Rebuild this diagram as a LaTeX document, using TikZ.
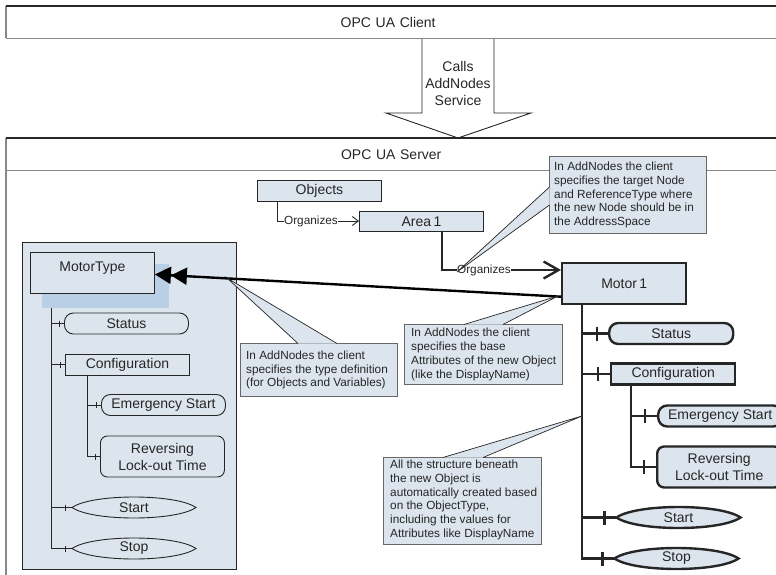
\documentclass[tikz,border=0pt]{standalone}
\usepackage{fontspec}
\setmainfont{Liberation Sans}
\usetikzlibrary{arrows.meta,calc}
\definecolor{boxfill}{HTML}{DCE4EE}
\definecolor{hilite}{HTML}{B8CFE6}
\definecolor{ink}{HTML}{262626}
\tikzset{
  big/.style={font=\fontsize{14}{17}\selectfont,text=ink,align=center},
  small/.style={font=\fontsize{11.8}{13.8}\selectfont,text=ink},
  box/.style={draw=ink,fill=boxfill,big,line width=0.9pt,minimum width=124pt,minimum height=21pt,inner sep=0pt},
  rbox/.style={box,rounded corners=9pt},
  rrbox/.style={box,rounded corners=7pt,minimum height=41pt},
  hv/.style={line width=2.4pt},
  lv/.style={line width=0.9pt},
  calloutbox/.style={draw=ink!70,fill=boxfill,line width=0.9pt,inner sep=0pt,anchor=north west},
  callouttext/.style={small,align=left,inner sep=0pt,anchor=west},
  ptr/.style={fill=boxfill,draw=none},
  ptredge/.style={draw=ink,line width=0.7pt},
  tree/.style={draw=ink,line join=miter},
  band/.style={minimum width=780pt,minimum height=32pt,inner sep=0pt,big,anchor=north west,text width=770pt,align=center},
  darkedge/.style={draw=ink,line width=1.1pt},
  greyedge/.style={draw=ink!55,line width=1.6pt},
}
% lens-shaped node: #1 style, #2 name, #3 x, #4 y, #5 text
\newcommand{\lensnode}[5]{%
  \path[draw=ink,fill=boxfill,#1] (#3-62,#4) .. controls (#3-42,#4-14) and (#3+42,#4-14) .. (#3+62,#4)
     .. controls (#3+42,#4+14) and (#3-42,#4+14) .. cycle;
  \node[big,minimum width=124pt,minimum height=21pt,inner sep=0pt] (#2) at (#3,#4) {#5};}
% branch: #1 line style, #2 root, #3 target node, #4 tick offset, #5 tick half height
\newcommand{\branch}[5]{%
  \draw[tree,#1] (#2) |- (#3.west);
  \draw[tree,#1] ($(#3.west)+(-#4,-#5)$) -- ($(#3.west)+(-#4,#5)$);}
% callout pointer: #1 tip, #2 base a, #3 base b
\newcommand{\pointer}[3]{%
  \fill[ptr] (#1) -- (#2) -- (#3) -- cycle;
  \draw[ptredge] (#2) -- (#1) -- (#3);}
\begin{document}
\begin{tikzpicture}[x=1pt,y=-1pt]
\useasboundingbox (0,0) rectangle (776,575);
\clip (0,0) rectangle (776,575);
% big arrow
\draw[ink,line width=0.9pt,fill=white] (422,38) -- (422,113) -- (386,113) -- (458,138) -- (531,113) -- (494,113) -- (494,38);
\node[big] (calls) at (458,83) {Calls\\AddNodes\\Service};
% client
\node[band] (client) at (6,6) {\hspace*{-16pt}OPC UA Client};
\draw[greyedge] (client.north west) -- (client.south west);
\draw[darkedge] (client.north west) -- (client.north east);
\draw[greyedge] (client.south west) -- (client.south east);
% server
\coordinate (srvbl) at (6,580);
\draw[greyedge] (6,138) -- (srvbl);
\node[band] (server) at (6,138) {\hspace*{-10pt}OPC UA Server};
\draw[ink,line width=1.6pt] (server.north west) -- (server.north east);
\draw[ink!55,line width=1pt] (server.south west) -- (server.south east);
% top nodes
\node[box,anchor=north west,minimum height=21pt] (objects) at (257,180) {Objects};
\node[box,anchor=north west,minimum height=20pt] (area) at (359,211) {Area\,1};
\node[small,inner sep=0pt] (org1) at (311,221) {Organizes};
\coordinate (objroot) at (277,201);
\draw[lv,draw=ink] (objroot) |- (org1.west);
\draw[lv,draw=ink,-{Straight Barb[length=6pt,width=9pt]}] (org1.east) -- (area.west |- org1.east);
% panel
\node[draw=ink,line width=0.9pt,fill=boxfill,minimum width=214pt,minimum height=327pt,inner sep=0pt,anchor=north west] (panel) at (22,242) {};
% MotorType tree
\coordinate (mtroot) at (51,293);
\node[rbox,anchor=west] (status) at (64,323.5) {Status};
\node[box,anchor=west] (config) at (65,364.5) {Configuration};
\node[rbox,anchor=west] (emerg) at (101,405) {Emergency Start};
\node[rrbox,anchor=west] (rev) at (100,456.5) {Reversing\\Lock-out Time};
\lensnode{line width=0.9pt}{start}{134}{507.5}{Start}
\lensnode{line width=0.9pt}{stop}{134}{548.5}{Stop}
\coordinate (cfgroot) at (87,375);
\branch{lv}{mtroot}{status}{5}{3}
\branch{lv}{mtroot}{config}{5}{3}
\branch{lv}{mtroot}{start}{6}{3}
\branch{lv}{mtroot}{stop}{6}{3}
\branch{lv}{cfgroot}{emerg}{5}{3}
\branch{lv}{cfgroot}{rev}{5}{3}
\fill[hilite] (42,264) rectangle (169,308);
\node[box,anchor=north west,minimum height=41pt] (mt) at (30,252) {\raisebox{12pt}{MotorType}};
% Motor1
\node[box,line width=2.4pt,anchor=north west,minimum height=41pt] (motor) at (561,262) {Motor\,1};
\coordinate (arearoot) at (442,231);
\node[small,inner sep=0pt] (org2) at (484,270) {Organizes};
\draw[hv,draw=ink] (arearoot) |- (org2.west);
\draw[hv,draw=ink,-{Straight Barb[length=15pt,width=17pt,line width=2.4pt]}] (org2.east) -- (motor.west |- org2.east);
\coordinate (motorref) at ($(motor.west)+(0,13)$);
\coordinate (mtref) at ($(mt.east)+(0,1.5)$);
\draw[hv,draw=black,-{Triangle[length=16pt,width=17pt]Triangle[length=16pt,width=17pt]}] (motorref) -- (mtref);
% Motor1 tree
\coordinate (motorroot) at (582,303);
\node[rbox,line width=2.4pt,anchor=west] (status2) at (608,333.5) {Status};
\node[box,line width=2.4pt,anchor=west] (config2) at (610,374) {Configuration};
\node[rbox,line width=2.4pt,anchor=west] (emerg2) at (657,416) {Emergency Start};
\node[rrbox,line width=2.4pt,anchor=west] (rev2) at (656,467) {Reversing\\Lock-out Time};
\lensnode{line width=2.4pt}{start2}{678.5}{517.5}{Start}
\lensnode{line width=2.4pt}{stop2}{676.5}{558.5}{Stop}
\coordinate (cfgroot2) at (631,384);
\branch{hv}{motorroot}{status2}{11}{7}
\branch{hv}{motorroot}{config2}{12}{7}
\branch{hv}{motorroot}{start2}{12}{7}
\branch{hv}{motorroot}{stop2}{12}{7}
\branch{hv}{cfgroot2}{emerg2}{12}{7}
\branch{hv}{cfgroot2}{rev2}{12}{7}
% callouts
\node[calloutbox,minimum width=157pt,minimum height=53pt] (c1) at (240,343) {};
\node[callouttext] (c1t) at ($(c1.west)+(6,0)$) {In AddNodes the client\\specifies the type definition\\(for Objects and Variables)};
\coordinate (c1tip) at (227,278);
\coordinate (c1a) at (298,343.5);
\coordinate (c1b) at (337,343.5);
\pointer{c1tip}{c1a}{c1b}
\node[calloutbox,minimum width=157pt,minimum height=77pt] (c2) at (549,156) {};
\node[callouttext] (c2t) at ($(c2.west)+(5,0)$) {In AddNodes the client\\specifies the target Node\\and ReferenceType where\\the new Node should be in\\the AddressSpace};
\coordinate (c2tip) at (457,272);
\coordinate (c2a) at (549.5,187);
\coordinate (c2b) at (549.5,205);
\pointer{c2tip}{c2a}{c2b}
\node[calloutbox,minimum width=158pt,minimum height=60pt] (c3) at (404,324) {};
\node[callouttext] (c3t) at ($(c3.west)+(7,0)$) {In AddNodes the client\\specifies the base\\Attributes of the new Object\\(like the DisplayName)};
\coordinate (c3tip) at (558,296);
\coordinate (c3a) at (464,324.5);
\coordinate (c3b) at (503,324.5);
\pointer{c3tip}{c3a}{c3b}
\node[calloutbox,minimum width=158pt,minimum height=87pt] (c4) at (383,457) {};
\node[callouttext] (c4t) at ($(c4.west)+(7,-1)$) {All the structure beneath\\the new Object is\\automatically created based\\on the ObjectType,\\including the values for\\Attributes like DisplayName};
\coordinate (c4tip) at (582,416);
\coordinate (c4a) at (443,457.5);
\coordinate (c4b) at (483,457.5);
\pointer{c4tip}{c4a}{c4b}
\end{tikzpicture}
\end{document}
